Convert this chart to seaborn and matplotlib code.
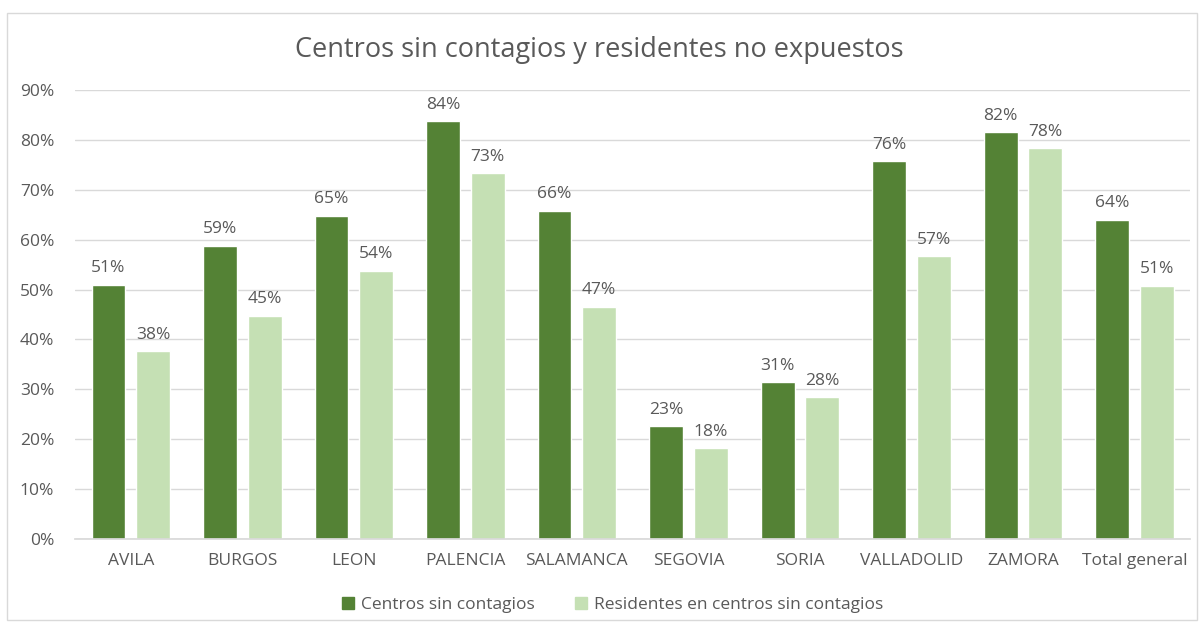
import matplotlib
matplotlib.use("Agg")
import matplotlib.pyplot as plt
import matplotlib.patches as mpatches
import seaborn as sns
import pandas as pd
from matplotlib.ticker import PercentFormatter

categories = ["AVILA", "BURGOS", "LEON", "PALENCIA", "SALAMANCA", "SEGOVIA",
              "SORIA", "VALLADOLID", "ZAMORA", "Total general"]
centros = [0.51, 0.588, 0.648, 0.838, 0.658, 0.226, 0.314, 0.758, 0.816, 0.640]
residentes = [0.376, 0.448, 0.538, 0.734, 0.466, 0.182, 0.285, 0.567, 0.784, 0.508]
series_names = ["Centros sin contagios", "Residentes en centros sin contagios"]
colors = ["#548235", "#C5E0B4"]

df = pd.DataFrame({
    "cat": categories * 2,
    "val": centros + residentes,
    "serie": [series_names[0]] * len(categories) + [series_names[1]] * len(categories),
})

sns.set_theme(style="white")
plt.rcParams["font.family"] = ["Open Sans", "DejaVu Sans"]
txt = "#595959"

fig = plt.figure(figsize=(11.99, 6.30), dpi=100)
ax = fig.add_axes([0.0626, 0.1444, 0.93, 0.7127])

sns.barplot(data=df, x="cat", y="val", hue="serie", palette=colors,
            width=0.8, gap=0.24, ax=ax, legend=False, saturation=1)

ax.set_ylim(0, 0.9)
ax.set_xlim(-0.5, len(categories) - 0.5)
ax.yaxis.set_major_formatter(PercentFormatter(1.0, decimals=0))
ax.set_yticks([i / 10 for i in range(10)])
ax.grid(axis="y", color="#D9D9D9", linewidth=1)
ax.set_axisbelow(True)
for s in ["top", "right", "left"]:
    ax.spines[s].set_visible(False)
ax.spines["bottom"].set_color("#D9D9D9")
ax.tick_params(axis="both", length=0, colors=txt, labelsize=12.5)
ax.tick_params(axis="y", pad=15)
ax.tick_params(axis="x", pad=10)
ax.set_xlabel("")
ax.set_ylabel("")

for cont in ax.containers:
    ax.bar_label(cont, labels=[f"{v*100:.0f}%" for v in cont.datavalues],
                 padding=6, color=txt, fontsize=12.5)

fig.text(0.5, 0.92, "Centros sin contagios y residentes no expuestos",
         ha="center", va="center", fontsize=19.5, color=txt)

handles = [mpatches.Patch(color=c, label=n) for c, n in zip(colors, series_names)]
fig.legend(handles=handles, loc="center", bbox_to_anchor=(0.511, 0.04), ncol=2,
           frameon=False, fontsize=12.5, labelcolor=txt, handlelength=0.7,
           handleheight=0.7, handletextpad=0.4, columnspacing=2.3)

border = mpatches.Rectangle((0.006, 0.016), 0.992, 0.964, transform=fig.transFigure,
                            fill=False, edgecolor="#D9D9D9", linewidth=1)
fig.patches.append(border)

fig.savefig("out.png", dpi=100)
